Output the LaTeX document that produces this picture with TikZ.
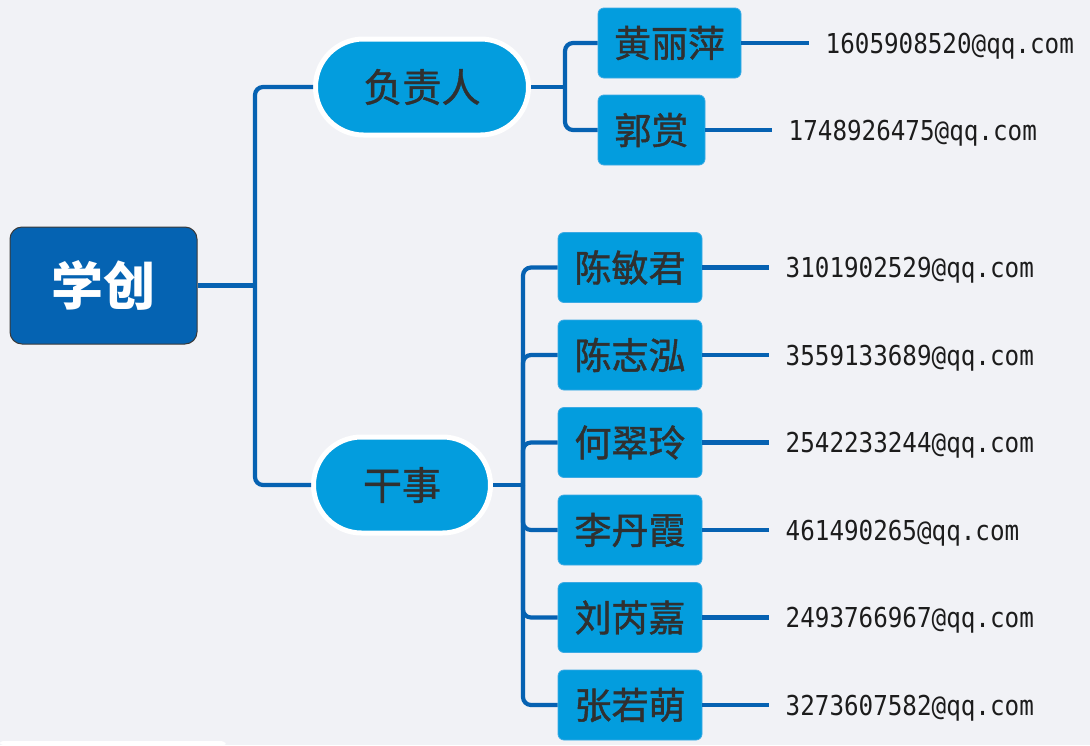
\documentclass[tikz,border=0pt]{standalone}
\usepackage{fontspec}
\newfontfamily\cjk{Noto Sans CJK SC}
\newfontfamily\cjkname[FakeBold=1.2]{Noto Sans CJK SC}
\newfontfamily\mailfont[FakeStretch=0.885]{DejaVu Sans Mono}
\definecolor{bg}{RGB}{241,242,246}
\definecolor{lineblue}{RGB}{6,98,178}
\definecolor{rootblue}{RGB}{5,99,178}
\definecolor{rootborder}{RGB}{58,58,58}
\definecolor{nodeblue}{RGB}{3,157,222}
\definecolor{nodeedge}{RGB}{60,170,228}
\definecolor{txt}{RGB}{48,48,48}
\definecolor{mailtxt}{RGB}{28,28,28}
\begin{document}
\begin{tikzpicture}[x=1pt,y=-1pt,
  conn/.style={draw=lineblue,line width=4.2pt,rounded corners=8pt},
  rootbox/.style={rectangle,fill=rootblue,draw=rootborder,line width=1pt,rounded corners=12pt,
    minimum width=187pt,minimum height=117pt,text=white,
    font=\cjk\bfseries\fontsize{52}{56}\selectfont},
  pill/.style={rectangle,fill=nodeblue,draw=white,line width=5pt,minimum height=96pt,
    rounded corners=48pt,text=txt,inner sep=0pt,font=\cjkname\fontsize{39}{42}\selectfont},
  namebox/.style={rectangle,fill=nodeblue,draw=nodeedge,line width=0.8pt,rounded corners=6pt,
    minimum height=70pt,inner sep=0pt,text=txt,font=\cjkname\fontsize{37}{40}\selectfont},
  mail/.style={anchor=west,inner xsep=16.5pt,inner ysep=0pt,text=mailtxt,
    text height=20pt,text depth=0pt,font=\mailfont\fontsize{27.4}{30}\selectfont}]
\fill[bg] (0,0) rectangle (1090,745);
\useasboundingbox (0,0) rectangle (1090,745);
\fill[white,rounded corners=3pt] (0,741) -- (224,741) -- (227,745) -- (0,745) -- cycle;

% nodes
\node[rootbox] (root) at (103.5,285.5) {学创};
\node[pill,minimum width=213pt] (fzr) at (422,87) {负责人};
\node[pill,minimum width=177pt] (gs) at (402,485) {干事};

\node[namebox,minimum width=143pt] (hlp) at (669.5,43) {黄丽萍};
\node[namebox,minimum width=107pt] (guo) at (651.5,130) {郭赏};

\node[namebox,minimum width=144pt] (c1) at (630,267.5) {陈敏君};
\node[namebox,minimum width=144pt] (c2) at (630,355) {陈志泓};
\node[namebox,minimum width=144pt] (c3) at (630,442.5) {何翠玲};
\node[namebox,minimum width=144pt] (c4) at (630,530) {李丹霞};
\node[namebox,minimum width=144pt] (c5) at (630,617.5) {刘芮嘉};
\node[namebox,minimum width=144pt] (c6) at (630,705) {张若萌};

\node[mail] (e1) at (809,43) {1605908520@qq.com};
\node[mail] (e2) at (772,130) {1748926475@qq.com};
\node[mail] (m1) at (769,267.5) {3101902529@qq.com};
\node[mail] (m2) at (769,355) {3559133689@qq.com};
\node[mail] (m3) at (769,442.5) {2542233244@qq.com};
\node[mail] (m4) at (769,530) {461490265@qq.com};
\node[mail] (m5) at (769,617.5) {2493766967@qq.com};
\node[mail] (m6) at (769,705) {3273607582@qq.com};

% junctions
\coordinate (j1) at (255,285.5);
\coordinate (j2) at (565,87);
\coordinate (j3) at (523,485);

% connectors
\draw[conn] (root.east) -- (j1);
\draw[conn] (fzr.west) -| (j1) |- (gs.west);

\draw[conn] (fzr.east) -- (j2);
\draw[conn] (hlp.west) -| (j2) |- (guo.west);

\draw[conn] (gs.east) -- (j3);
\draw[conn] (c1.west) -| (j3) |- (c6.west);
\draw[conn] (c2.west) -| (j3);
\draw[conn] (c3.west) -| (j3);
\draw[conn] (c4.west) -| (j3);
\draw[conn] (c5.west) -| (j3);

\draw[conn] (hlp.east) -- (e1.west);
\draw[conn] (guo.east) -- (e2.west);
\draw[conn] (c1.east) -- (m1.west);
\draw[conn] (c2.east) -- (m2.west);
\draw[conn] (c3.east) -- (m3.west);
\draw[conn] (c4.east) -- (m4.west);
\draw[conn] (c5.east) -- (m5.west);
\draw[conn] (c6.east) -- (m6.west);
\end{tikzpicture}
\end{document}
